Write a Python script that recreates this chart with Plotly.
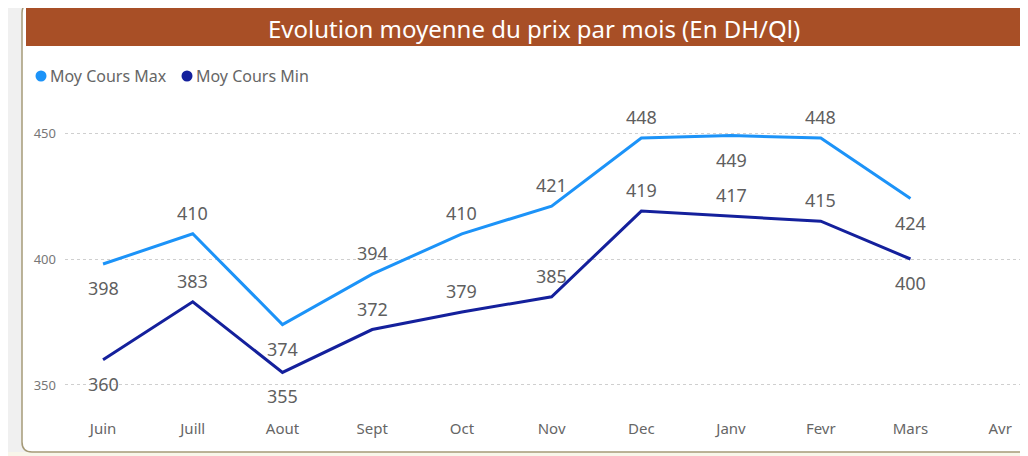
import plotly.graph_objects as go

months = ["Juin", "Juill", "Aout", "Sept", "Oct", "Nov", "Dec", "Janv", "Fevr", "Mars", "Avr"]
cours_max = [398, 410, 374, 394, 410, 421, 448, 449, 448, 424, None]
cours_min = [360, 383, 355, 372, 379, 385, 419, 417, 415, 400, None]
max_label_pos = ["below", "above", "below", "above", "above", "above", "above", "below", "above", "below"]
min_label_pos = ["below", "above", "below", "above", "above", "above", "above", "above", "above", "below"]
series_names = ["Moy Cours Max", "Moy Cours Min"]

C_MAX = "#1C93F8"
C_MIN = "#14209C"
OFF = 8  # page body margin
W, H = 1028 - OFF, 456 - OFF
# plot area in screenshot pixels: x 65..1028, y 100..418
L, R, T, B = 65 - OFF, 0, 100 - OFF, 456 - 418
PW, PH = W - L - R, H - T - B

def px(sx):
    return (sx - OFF - L) / PW

def py(sy):
    return (H - B - (sy - OFF)) / PH

fig = go.Figure()
fig.add_trace(go.Scatter(x=months, y=cours_max, mode="lines", name=series_names[0],
                         line=dict(color=C_MAX, width=3), showlegend=False, hoverinfo="skip"))
fig.add_trace(go.Scatter(x=months, y=cours_min, mode="lines", name=series_names[1],
                         line=dict(color=C_MIN, width=3), showlegend=False, hoverinfo="skip"))

annotations = []
for series, pos in ((cours_max, max_label_pos), (cours_min, min_label_pos)):
    for m, v, p in zip(months, series, pos):
        if v is None:
            continue
        annotations.append(dict(x=m, y=v, xref="x", yref="y", text=str(v), showarrow=False,
                                xanchor="center", yanchor="middle",
                                yshift=21 if p == "above" else -24,
                                font=dict(family="Noto Sans", size=18, color="#5F5F5F")))

# title
annotations.append(dict(x=px(534), y=py(28), xref="paper", yref="paper",
                        xanchor="center", yanchor="middle",
                        text="Evolution moyenne du prix par mois (En DH/Ql)", showarrow=False,
                        font=dict(family="Noto Sans", size=24, color="white")))

shapes = []
# legend (dot + label)
for name, col, dot_x, text_x in ((series_names[0], C_MAX, 41, 48), (series_names[1], C_MIN, 187, 194)):
    annotations.append(dict(x=px(text_x), y=py(76), xref="paper", yref="paper",
                            xanchor="left", yanchor="middle", text=name, showarrow=False,
                            font=dict(family="Noto Sans", size=16, color="#666666")))
    shapes.append(dict(type="circle", xref="paper", yref="paper",
                       x0=px(dot_x - 5.5), x1=px(dot_x + 5.5), y0=py(76 + 5.5), y1=py(76 - 5.5),
                       fillcolor=col, line=dict(width=0)))

# rounded frame path
x0, x1, y0, y1 = 22, 1045, 3, 452
r = 10
def P(x, y):
    return f"{px(x)},{py(y)}"
path = (f"M {P(x0 + r, y0)} L {P(x1 - r, y0)} Q {P(x1, y0)} {P(x1, y0 + r)} "
        f"L {P(x1, y1 - r)} Q {P(x1, y1)} {P(x1 - r, y1)} L {P(x0 + r, y1)} "
        f"Q {P(x0, y1)} {P(x0, y1 - r)} L {P(x0, y0 + r)} Q {P(x0, y0)} {P(x0 + r, y0)} Z")

shapes = [
    dict(type="rect", xref="paper", yref="paper", x0=px(0), x1=px(1040), y0=py(452), y1=py(470),
         fillcolor="#F8F6EA", line=dict(width=0), layer="below"),
    dict(type="path", xref="paper", yref="paper", path=path, fillcolor="white",
         line=dict(color="#A59A78", width=1.5), layer="below"),
    dict(type="rect", xref="paper", yref="paper", x0=px(26), x1=px(1040), y0=py(46), y1=py(7),
         fillcolor="#A84F26", line=dict(width=0), layer="below"),
] + shapes

fig.update_layout(
    width=W, height=H,
    margin=dict(l=L, r=R, t=T, b=B),
    paper_bgcolor="#F0F0F0",
    plot_bgcolor="rgba(0,0,0,0)",
    showlegend=False,
    annotations=annotations,
    shapes=shapes,
    xaxis=dict(range=[-0.424, 10.31], showgrid=False, zeroline=False, showline=False,
               ticks="", tickfont=dict(family="Noto Sans", size=15, color="#666666")),
    yaxis=dict(range=[336.9, 463.1], tickvals=[350, 400, 450], showgrid=True,
               gridcolor="#CFCFCF", griddash="dot", gridwidth=1, zeroline=False, showline=False,
               ticks="", ticklabelstandoff=8,
               tickfont=dict(family="Noto Sans", size=13, color="#777777")),
)

fig.write_html("out.html")
